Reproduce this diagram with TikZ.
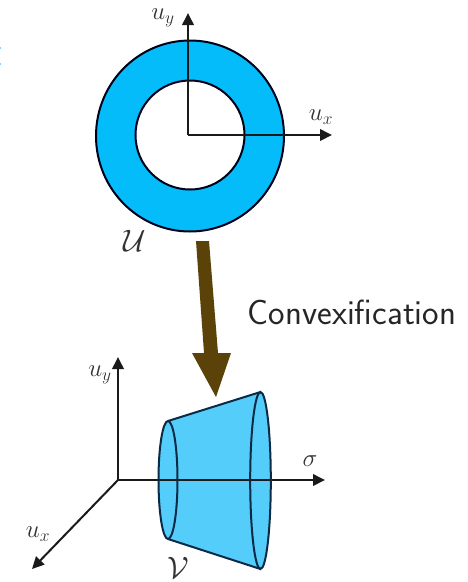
\documentclass[tikz,border=0pt]{standalone}
\usepackage{fix-cm}
\usetikzlibrary{arrows.meta}
\definecolor{ringblue}{HTML}{05BCFB}
\definecolor{coneblue}{HTML}{55CDFB}
\definecolor{arrowbrown}{HTML}{5A4209}
\definecolor{edgeblue}{HTML}{0A2A45}
\definecolor{axisgrey}{HTML}{1A1A1A}
\definecolor{lab}{HTML}{333333}
\definecolor{sliver}{HTML}{8FC7F0}
\tikzset{
  axisline/.style={draw=axisgrey,line width=2pt,-{Triangle[length=12pt,width=11.5pt]}},
  outline/.style={draw=black!90!blue,line width=2pt},
  coneedge/.style={draw=edgeblue,line width=2pt},
  axlabel/.style={inner sep=0pt,text=lab,font=\fontsize{25}{29}\selectfont},
  setlabel/.style={inner sep=0pt,text=lab,font=\fontsize{31}{36}\selectfont},
}
\begin{document}
\begin{tikzpicture}[x=1pt,y=-1pt]
\useasboundingbox (0,0) rectangle (468,582);
% stray sliver at the left edge
\fill[sliver] (0,47) rectangle (1,49);
\fill[sliver] (0,63) rectangle (1,65);
% ring
\path[fill=ringblue,even odd rule] (190,136) ellipse [x radius=94,y radius=95.5] (190,135) circle [radius=54.5];
\draw[outline] (190,136) ellipse [x radius=94,y radius=95.5];
\draw[outline] (190,135) circle [radius=54.5];
% upper axes
\coordinate (o1) at (188,135);
\coordinate (y1) at (188,13);
\coordinate (x1) at (332,135);
\draw[axisline] (o1) -- (y1);
\draw[axisline] (o1) -- (x1);
\node[axlabel] (uy1) at (163,18) {$u_y$};
\node[axlabel] (ux1) at (321,117) {$u_x$};
\node[setlabel] (U) at (135,241) {$\mathcal{U}$};
% big arrow
\fill[arrowbrown] (196,241) -- (209,241) -- (218,353) -- (231,353) -- (216,397) -- (192,353) -- (204,353) -- cycle;
\node[inner sep=0pt,text=black!85,font=\sffamily\fontsize{35}{40}\selectfont] (conv) at (352,312) {Convexification};
% lower axes
\coordinate (o2) at (118,480);
\coordinate (y2) at (118,357);
\coordinate (x2) at (325,480);
\coordinate (z2) at (32,569);
% cone
\fill[coneblue] (168,480) ellipse [x radius=9.5,y radius=59];
\fill[coneblue] (260.5,480.5) ellipse [x radius=10.3,y radius=88.5];
\fill[coneblue] (168,421) -- (260.5,392) -- (260.5,569) -- (168,539) -- cycle;
\draw[axisline] (o2) -- (y2);
\draw[axisline] (o2) -- (x2);
\draw[axisline] (o2) -- (z2);
\draw[coneedge] (168,480) ellipse [x radius=9.5,y radius=59];
\draw[coneedge] (260.5,480.5) ellipse [x radius=10.3,y radius=88.5];
\draw[coneedge] (168,421) -- (260.5,392);
\draw[coneedge] (168,539) -- (260.5,569);
\node[axlabel] (uy2) at (100,375) {$u_y$};
\node[axlabel] (sig) at (310,461) {$\sigma$};
\node[axlabel] (ux2) at (38,534) {$u_x$};
\node[setlabel] (V) at (178,568) {$\mathcal{V}$};
\end{tikzpicture}
\end{document}
